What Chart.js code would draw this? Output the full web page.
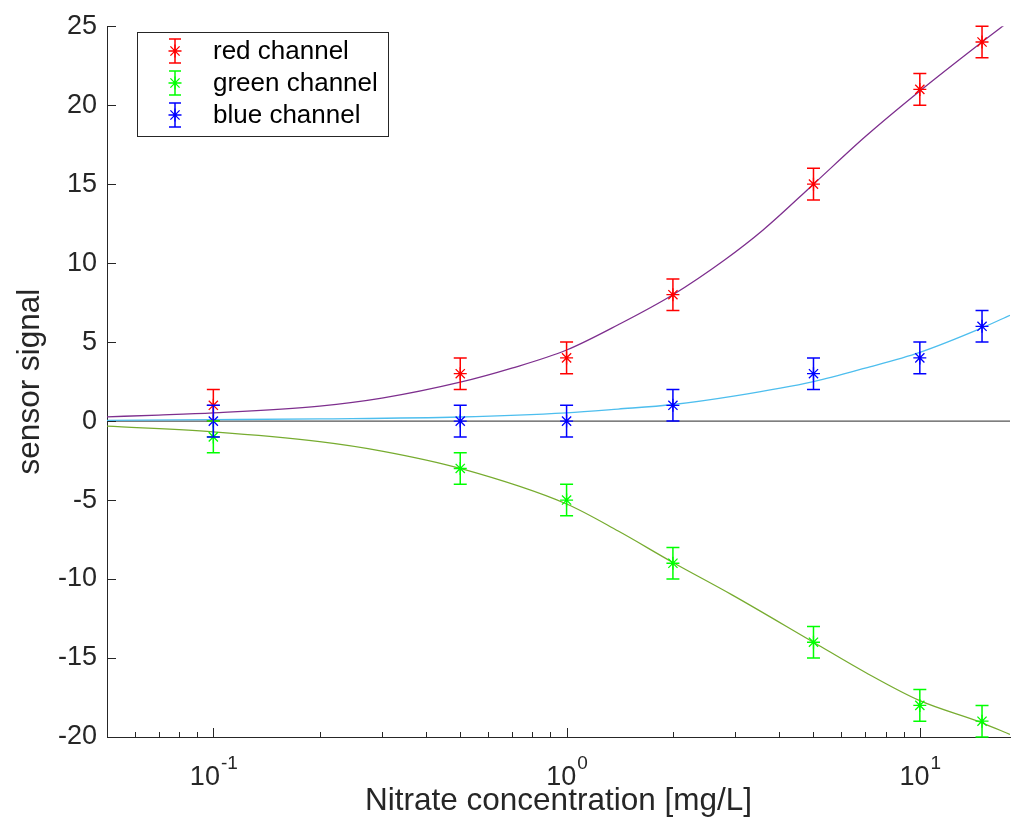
<!DOCTYPE html>
<html>
<head>
<meta charset="utf-8">
<script src="https://cdn.jsdelivr.net/npm/chart.js@4/dist/chart.umd.min.js"></script>
<style>
  html, body { margin: 0; padding: 0; background: #fff; }
</style>
</head>
<body>
<canvas id="sensor-chart" width="1012" height="830"></canvas>
<script>
var conc = [0.1, 0.5, 1, 2, 5, 10, 15];
var red_signal = [1, 3, 4, 8, 15, 21, 24];
var green_signal = [-1, -3, -5, -9, -14, -18, -19];
var blue_signal = [0, 0, 0, 1, 3, 4, 6];
var signal_err = [1, 1, 1, 1, 1, 1, 1];

// fitted curves
var red_fit_x = [0.05, 0.07, 0.1, 0.2, 0.3, 0.5, 0.7, 1, 1.4, 2, 2.8, 3.6, 5, 7, 10, 15, 18];
var red_fit_y = [0.27, 0.38, 0.52, 0.95, 1.45, 2.46, 3.35, 4.5, 6.1, 8.0, 10.2, 12.1, 15.0, 18.0, 20.9, 24.0, 25.35];
var green_fit_x = [0.05, 0.1, 0.2, 0.3, 0.5, 1, 1.4, 2, 2.94, 5, 7, 10, 15, 18];
var green_fit_y = [-0.32, -0.68, -1.3, -1.9, -3.0, -5.25, -6.96, -8.95, -11.0, -14.0, -15.9, -17.7, -19.1, -19.84];
var blue_fit_x = [0.05, 0.1, 0.2, 0.5, 1, 1.4, 2, 3, 5, 7, 10, 15, 18];
var blue_fit_y = [0.05, 0.09, 0.14, 0.26, 0.52, 0.76, 1.05, 1.6, 2.5, 3.35, 4.35, 5.9, 6.7];

var x_ticks = [0.1, 1, 10];
var x_tick_base = '10';
var x_tick_exps = ['-1', '0', '1'];
var x_minor_ticks = [0.06, 0.07, 0.08, 0.09, 0.2, 0.3, 0.4, 0.5, 0.6, 0.7, 0.8, 0.9, 2, 3, 4, 5, 6, 7, 8, 9];

var axis_color = '#262626';
var font_family = '"Liberation Sans", Arial, Helvetica, sans-serif';

function pts(xs, ys) {
   return xs.map(function (x, i) { return {x: x, y: ys[i]}; });
}

function drawStar(ctx, x, y, r) {
   var d = r * Math.SQRT1_2;
   ctx.beginPath();
   ctx.moveTo(x - r, y); ctx.lineTo(x + r, y);
   ctx.moveTo(x, y - r); ctx.lineTo(x, y + r);
   ctx.moveTo(x - d, y - d); ctx.lineTo(x + d, y + d);
   ctx.moveTo(x - d, y + d); ctx.lineTo(x + d, y - d);
   ctx.stroke();
}

// vertical error bars with caps, from dataset.errors
var errorBars = {
   id: 'errorBars',
   afterDatasetsDraw: function (chart) {
      var ctx = chart.ctx;
      var ys = chart.scales.y;
      chart.data.datasets.forEach(function (ds, i) {
         if (!ds.errors) return;
         var meta = chart.getDatasetMeta(i);
         ctx.save();
         ctx.strokeStyle = ds.borderColor;
         ctx.lineWidth = 1.5;
         meta.data.forEach(function (el, j) {
            var v = ds.data[j].y, e = ds.errors[j];
            var top = ys.getPixelForValue(v + e);
            var bot = ys.getPixelForValue(v - e);
            ctx.beginPath();
            ctx.moveTo(el.x, top); ctx.lineTo(el.x, bot);
            ctx.moveTo(el.x - 6.5, top); ctx.lineTo(el.x + 6.5, top);
            ctx.moveTo(el.x - 6.5, bot); ctx.lineTo(el.x + 6.5, bot);
            ctx.stroke();
         });
         ctx.restore();
      });
   }
};

// inward tick marks, 10^n labels and the boxed legend
var axisDecor = {
   id: 'axisDecor',
   afterDraw: function (chart) {
      var ctx = chart.ctx;
      var area = chart.chartArea;
      var xs = chart.scales.x, ys = chart.scales.y;
      ctx.save();
      ctx.strokeStyle = axis_color;
      ctx.lineWidth = 1;
      ctx.beginPath();
      ys.ticks.forEach(function (t) {
         var py = Math.round(ys.getPixelForValue(t.value)) + 0.5;
         ctx.moveTo(area.left, py); ctx.lineTo(area.left + 9, py);
      });
      x_ticks.forEach(function (v) {
         var px = Math.round(xs.getPixelForValue(v)) + 0.5;
         ctx.moveTo(px, area.bottom); ctx.lineTo(px, area.bottom - 9);
      });
      x_minor_ticks.forEach(function (v) {
         var px = Math.round(xs.getPixelForValue(v)) + 0.5;
         ctx.moveTo(px, area.bottom); ctx.lineTo(px, area.bottom - 5);
      });
      ctx.stroke();

      // x tick labels as 10 with a raised exponent
      ctx.fillStyle = axis_color;
      ctx.textBaseline = 'alphabetic';
      ctx.textAlign = 'left';
      x_ticks.forEach(function (v, i) {
         var px = xs.getPixelForValue(v);
         ctx.font = '27px ' + font_family;
         var wb = ctx.measureText(x_tick_base).width;
         ctx.font = '19px ' + font_family;
         var we = ctx.measureText(x_tick_exps[i]).width;
         var x0 = px - (wb + we) / 2;
         ctx.font = '27px ' + font_family;
         ctx.fillText(x_tick_base, x0, area.bottom + 48);
         ctx.font = '19px ' + font_family;
         ctx.fillText(x_tick_exps[i], x0 + wb + 1, area.bottom + 32);
      });

      // legend
      ctx.fillStyle = '#fff';
      ctx.fillRect(137, 32, 251, 104);
      ctx.strokeRect(137.5, 32.5, 251, 104);
      ctx.font = '26px ' + font_family;
      ctx.textBaseline = 'middle';
      var items = chart.data.datasets.filter(function (ds) { return ds.errors; });
      items.forEach(function (ds, i) {
         var cy = 51 + i * 32, cx = 175;
         ctx.strokeStyle = ds.borderColor;
         ctx.lineWidth = 1.5;
         ctx.beginPath();
         ctx.moveTo(cx, cy - 12); ctx.lineTo(cx, cy + 12);
         ctx.moveTo(cx - 6, cy - 12); ctx.lineTo(cx + 6, cy - 12);
         ctx.moveTo(cx - 6, cy + 12); ctx.lineTo(cx + 6, cy + 12);
         ctx.stroke();
         ctx.lineWidth = 1.3;
         drawStar(ctx, cx, cy, 6.5);
         ctx.fillStyle = '#000';
         ctx.fillText(ds.label, 213, cy + 1);
      });
      ctx.restore();
   }
};

Chart.defaults.font.family = font_family;
Chart.defaults.color = axis_color;

var ctx = document.getElementById('sensor-chart');

var chart = new Chart(ctx, {
   type: 'scatter',
   data: {
      datasets: [{
         label: 'red channel',
         data: pts(conc, red_signal),
         errors: signal_err,
         pointStyle: 'star',
         pointRadius: 6.5,
         borderWidth: 1.3,
         borderColor: '#FF0000',
         backgroundColor: '#FF0000'
      }, {
         label: 'green channel',
         data: pts(conc, green_signal),
         errors: signal_err,
         pointStyle: 'star',
         pointRadius: 6.5,
         borderWidth: 1.3,
         borderColor: '#00FF00',
         backgroundColor: '#00FF00'
      }, {
         label: 'blue channel',
         data: pts(conc, blue_signal),
         errors: signal_err,
         pointStyle: 'star',
         pointRadius: 6.5,
         borderWidth: 1.3,
         borderColor: '#0000FF',
         backgroundColor: '#0000FF'
      }, {
         label: 'red fit',
         data: pts(red_fit_x, red_fit_y),
         showLine: true,
         pointRadius: 0,
         borderWidth: 1.3,
         borderColor: '#7E2F8E',
         cubicInterpolationMode: 'monotone'
      }, {
         label: 'green fit',
         data: pts(green_fit_x, green_fit_y),
         showLine: true,
         pointRadius: 0,
         borderWidth: 1.3,
         borderColor: '#77AC30',
         cubicInterpolationMode: 'monotone'
      }, {
         label: 'blue fit',
         data: pts(blue_fit_x, blue_fit_y),
         showLine: true,
         pointRadius: 0,
         borderWidth: 1.3,
         borderColor: '#4DBEEE',
         cubicInterpolationMode: 'monotone'
      }, {
         label: 'zero',
         data: [{x: 0.05, y: 0}, {x: 18, y: 0}],
         showLine: true,
         pointRadius: 0,
         borderWidth: 1.2,
         borderColor: '#555555'
      }]
   },
   options: {
      responsive: false,
      animation: false,
      devicePixelRatio: 1,
      layout: {
         autoPadding: false,
         padding: {top: 24, right: 2, left: 0, bottom: 0}
      },
      plugins: {
         legend: {display: false},
         tooltip: {enabled: false}
      },
      scales: {
         x: {
            type: 'logarithmic',
            min: 0.05,
            max: 18,
            grid: {display: false, drawTicks: false},
            border: {display: true, color: axis_color, width: 1},
            afterBuildTicks: function (s) {
               s.ticks = x_ticks.map(function (v) { return {value: v, major: true}; });
            },
            ticks: {
               font: {size: 27},
               padding: 14,
               maxRotation: 0,
               autoSkip: false,
               callback: function () { return ''; }
            },
            title: {
               display: true,
               text: 'Nitrate concentration [mg/L]',
               font: {size: 31.5},
               padding: {top: 0, bottom: 10}
            },
            afterFit: function (s) {
               s.height = 93;
               s.paddingLeft = 0;
               s.paddingRight = 0;
            }
         },
         y: {
            min: -20,
            max: 25,
            grid: {display: false, drawTicks: false},
            border: {display: true, color: axis_color, width: 1},
            ticks: {
               stepSize: 5,
               font: {size: 27},
               padding: 10
            },
            title: {
               display: true,
               text: 'sensor signal',
               font: {size: 31.5},
               padding: {top: 11, bottom: 0}
            },
            afterFit: function (s) { s.width = 107; }
         }
      }
   },
   plugins: [errorBars, axisDecor]
});
</script>
</body>
</html>
